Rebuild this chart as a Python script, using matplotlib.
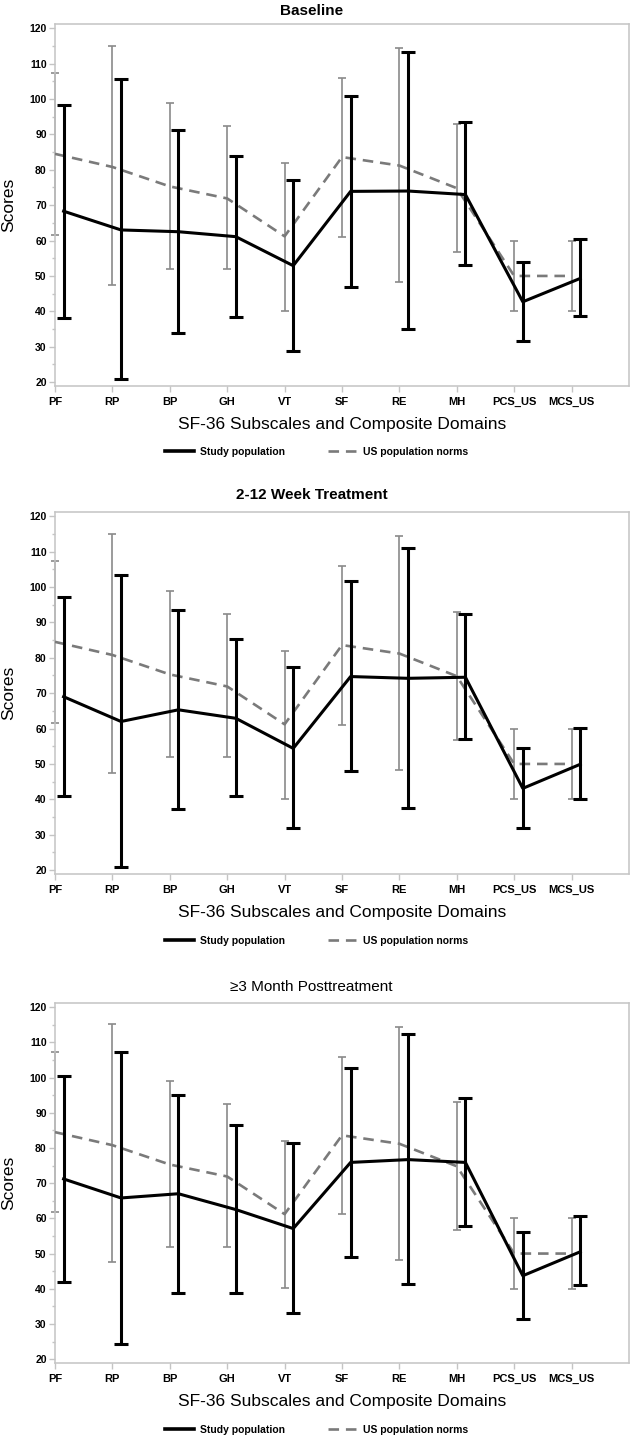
import matplotlib
matplotlib.use("Agg")
import matplotlib.pyplot as plt
import numpy as np
from matplotlib.lines import Line2D
from matplotlib.ticker import MultipleLocator

plt.rcParams['font.family'] = ['Liberation Sans', 'DejaVu Sans']

# === Dados ===
categorias = ["PF", "RP", "BP", "GH", "VT", "SF", "RE", "MH", "PCS_US", "MCS_US"]

# normas da populacao dos EUA (iguais nos tres paineis)
norma_media = [84.5, 80.8, 75.3, 71.9, 61.2, 83.6, 81.2, 74.8, 50.0, 50.0]
norma_sup = [107.4, 115.1, 99.0, 92.4, 82.0, 105.9, 114.3, 93.0, 60.0, 60.0]
norma_inf = [61.7, 47.5, 52.0, 52.0, 40.1, 61.1, 48.2, 56.8, 40.0, 40.0]

# populacao do estudo - baseline
base_media = [68.3, 63.0, 62.5, 61.1, 52.9, 73.9, 74.0, 73.0, 42.7, 49.3]
base_sup = [98.2, 105.6, 91.2, 83.9, 77.0, 100.9, 113.2, 93.4, 54.0, 60.5]
base_inf = [38.2, 20.8, 34.0, 38.4, 28.8, 47.0, 34.9, 53.2, 31.6, 38.7]

# 2-12 semanas de tratamento
trat_media = [69.0, 62.0, 65.3, 62.9, 54.4, 74.7, 74.2, 74.5, 43.1, 49.9]
trat_sup = [97.3, 103.4, 93.5, 85.4, 77.4, 101.8, 111.0, 92.5, 54.4, 60.3]
trat_inf = [40.9, 20.9, 37.2, 40.9, 31.8, 48.0, 37.5, 57.1, 31.8, 40.0]

# >=3 meses pos-tratamento
pos_media = [71.2, 65.8, 67.0, 62.5, 57.1, 75.9, 76.7, 75.9, 43.7, 50.5]
pos_sup = [100.5, 107.4, 95.0, 86.4, 81.4, 102.8, 112.5, 94.2, 56.1, 60.7]
pos_inf = [42.0, 24.3, 38.9, 38.9, 33.0, 48.9, 41.3, 57.7, 31.3, 41.0]

paineis = [
    ("Baseline", "bold", base_media, base_sup, base_inf),
    ("2-12 Week Treatment", "bold", trat_media, trat_sup, trat_inf),
    ("\u22653 Month Posttreatment", "normal", pos_media, pos_sup, pos_inf),
]

# === Layout (pixels da referencia) ===
W, H = 633, 1439
fig = plt.figure(figsize=(W / 100, H / 100), dpi=100)

eixo_px = [(24, 386), (512, 874), (1003, 1363)]  # topo, base de cada eixo
titulo_px = [11, 495, 987]
legenda_px = [452, 941, 1430]

x = np.arange(len(categorias))
desloc = 0.15
cinza = "#8a8a8a"
moldura = "#c4c4c4"

for (titulo, peso, media, sup, inf), (topo, base), ty, ly in zip(paineis, eixo_px, titulo_px, legenda_px):
    ax = fig.add_axes([55 / W, 1 - base / H, (629 - 55) / W, (base - topo) / H])

    norma_m = np.array(norma_media)
    eb = ax.errorbar(x, norma_m, yerr=[norma_m - np.array(norma_inf), np.array(norma_sup) - norma_m],
                     fmt='none', ecolor=cinza, elinewidth=1.2, capsize=2.6, capthick=1.2, zorder=2)
    for art in eb.get_children():
        art.set_clip_on(False)
    ax.plot(x, norma_m, color="#7a7a7a", lw=1.9, dashes=(4, 2.6), zorder=3)

    m = np.array(media)
    ax.errorbar(x + desloc, m, yerr=[m - np.array(inf), np.array(sup) - m],
                fmt='none', ecolor='black', elinewidth=2.2, capsize=5, capthick=2.2, zorder=4)
    ax.plot(x + desloc, m, color='black', lw=2.2, zorder=5)

    ax.set_xlim(0, 10)
    ax.set_ylim(18.9, 121.2)
    ax.set_xticks(x)
    ax.set_xticklabels(categorias, fontsize=8, fontweight='bold')
    ax.yaxis.set_major_locator(MultipleLocator(10))
    ax.yaxis.set_minor_locator(MultipleLocator(5))
    ax.set_yticks(np.arange(20, 121, 10))
    for lab in ax.get_yticklabels():
        lab.set_fontsize(7.5)
        lab.set_fontweight('bold')

    for s in ax.spines.values():
        s.set_color(moldura)
        s.set_linewidth(1.1)
    ax.tick_params(axis='both', which='major', color=moldura, length=4, width=1)
    ax.tick_params(axis='y', which='minor', color=moldura, length=2.5, width=1)
    ax.tick_params(axis='x', pad=4)
    ax.tick_params(axis='y', pad=2)

    ax.set_xlabel("SF-36 Subscales and Composite Domains", fontsize=12.5, labelpad=7)
    ax.set_ylabel("Scores", fontsize=12.5)
    ax.yaxis.set_label_coords(-0.068, 0.5)

    fig.text(0.492, 1 - ty / H, titulo, ha='center', va='center', fontsize=11, fontweight=peso)

    handles = [
        Line2D([], [], color='black', lw=2.6),
        Line2D([], [], color="#7a7a7a", lw=1.9, dashes=(4, 2.6)),
    ]
    fig.legend(handles, ["Study population", "US population norms"], loc='center',
               bbox_to_anchor=(0.5, 1 - ly / H), ncol=2, frameon=False,
               prop={'size': 7.5, 'weight': 'bold'}, handlelength=2.8,
               handletextpad=0.5, columnspacing=4.2)

fig.savefig("out.png", dpi=100)
